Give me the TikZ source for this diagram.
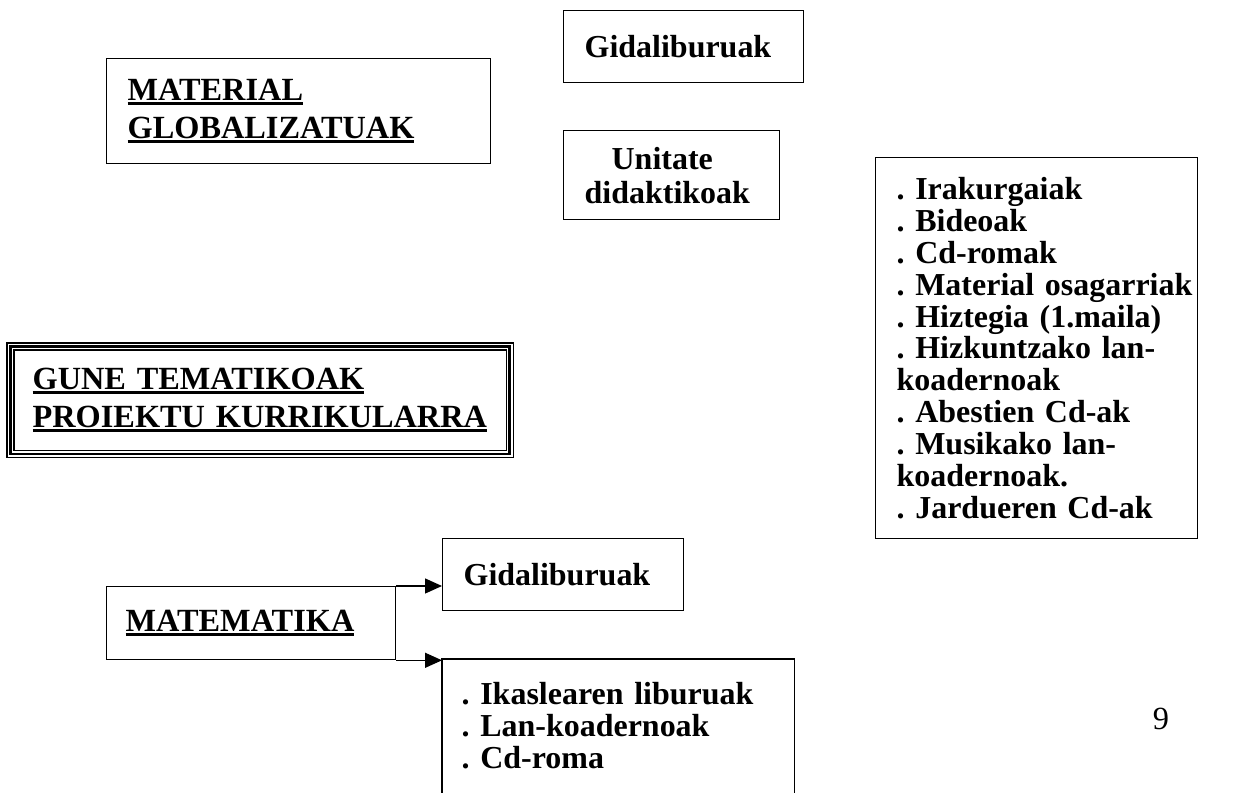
\documentclass[tikz,border=0pt]{standalone}
\usepackage{fontspec}
\setmainfont{Liberation Serif}
\usetikzlibrary{arrows.meta}
\hyphenpenalty=10000
\exhyphenpenalty=10000
\newsavebox\ulbox
\newcommand\ulb[1]{\leavevmode\sbox\ulbox{#1}\rlap{\rule[-0.15em]{\wd\ulbox}{0.09em}}\usebox\ulbox}
\tikzset{
  box/.style={draw, line width=0.75pt, anchor=north west, align=left, inner ysep=0pt,
    font=\bfseries\fontsize{18.2pt}{18.15pt}\selectfont},
  head/.style={box, font=\bfseries\fontsize{18.4pt}{21.5pt}\selectfont},
  arr/.style={line width=0.75pt, -{Triangle[length=0.34cm,width=0.3cm]}}
}
\begin{document}
\begin{tikzpicture}[x=0.02cm,y=-0.02cm]
\clip (0,0) rectangle (1259,793);
\fill[white] (0,0) rectangle (1259,793);
% top right boxes
\node[box, minimum width=4.8cm, minimum height=1.44cm, inner xsep=0.42cm, text width=3.96cm] (gidtop) at (563,10) {Gidaliburuak};
\node[box, minimum width=4.32cm, minimum height=1.78cm, inner xsep=0.42cm, text width=3.48cm,
  font=\bfseries\fontsize{18.2pt}{19.3pt}\selectfont] (unitate) at (563,130) {\hspace*{0.54cm}Unitate\\didaktikoak};
% headings
\node[head, minimum width=7.68cm, minimum height=2.1cm, inner xsep=0.42cm, text width=6.84cm] (material) at (106,58) {\ulb{MATERIAL}\\\ulb{GLOBALIZATUAK}};
\node[head, draw=none, minimum width=10.1cm, minimum height=2.26cm, inner xsep=0.5cm, text width=9.1cm] (gune) at (7,343) {\ulb{GUNE TEMATIKOAK}\\\ulb{PROIEKTU KURRIKULARRA}};
\draw[line width=0.6pt] (gune.north west) rectangle (gune.south east);
\draw[line width=1.3pt] ([shift={(3.6,3.6)}]gune.north west) rectangle ([shift={(-3.6,-3.6)}]gune.south east);
\draw[line width=0.6pt] ([shift={(7,7)}]gune.north west) rectangle ([shift={(-7,-7)}]gune.south east);
% right list
\node[box, minimum width=6.44cm, minimum height=7.62cm, inner xsep=0.42cm, text width=5.6cm] (list1) at (875,157)
 {.~Irakurgaiak\\.~Bideoak\\.~Cd-romak\\.~Material~osagarriak\\.~Hiztegia~(1.maila)\\.~Hizkuntzako~lan-\\koadernoak\\.~Abestien~Cd-ak\\.~Musikako~lan-\\koadernoak.\\.~Jardueren~Cd-ak};
% matematika
\node[head, minimum width=5.78cm, minimum height=1.46cm, inner xsep=0.38cm, text width=5.02cm] (matem) at (106,586) {\ulb{MATEMATIKA}};
\node[box, minimum width=4.82cm, minimum height=1.44cm, inner xsep=0.42cm, text width=3.98cm] (gidlow) at (442,538) {Gidaliburuak};
\node[box, draw=none, minimum width=7.02cm, minimum height=2.64cm, inner xsep=0.38cm, text width=6.26cm] (list2) at (442,659)
 {.~Ikaslearen~liburuak\\.~Lan-koadernoak\\.~Cd-roma};
\draw[line width=0.75pt] ([shift={(0,30)}]list2.south west) -- (list2.north west) -- (list2.north east) -- ([shift={(0,30)}]list2.south east);
\draw[arr] (matem.north east) -- (matem.north east -| gidlow.west);
\draw[arr] (matem.south east) -- (matem.south east -| list2.west);
% page number
\node[font=\fontsize{18.4pt}{20pt}\selectfont, inner sep=0pt] (pnum) at (1161,719) {9};
\end{tikzpicture}
\end{document}
